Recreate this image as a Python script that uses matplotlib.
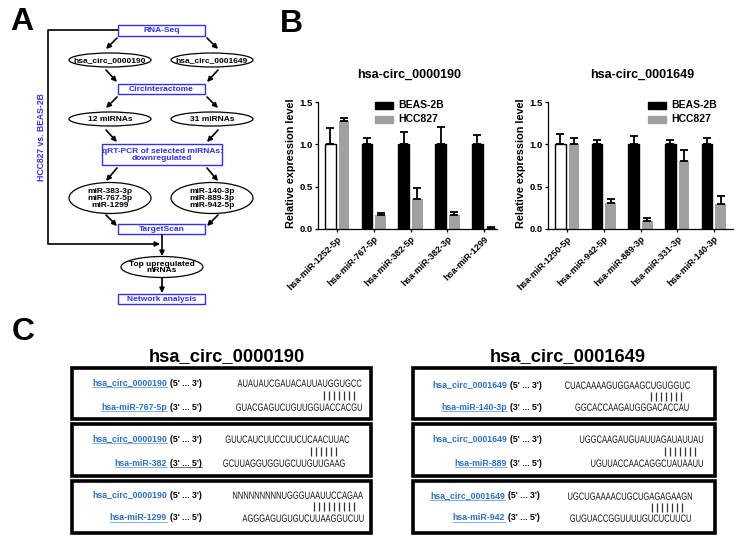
import numpy as np
import matplotlib
matplotlib.use("Agg")
import matplotlib.pyplot as plt
from matplotlib.font_manager import FontProperties
from matplotlib.patches import Rectangle, Ellipse, PathPatch
from matplotlib.textpath import TextPath
from matplotlib.transforms import Affine2D

plt.rcParams['font.family'] = ['Liberation Sans', 'DejaVu Sans']

# ---- panel B data ----
mirs_190 = ['hsa-miR-1252-5p', 'hsa-miR-767-5p', 'hsa-miR-382-5p', 'hsa-miR-382-3p', 'hsa-miR-1299']
beas_190 = [1.0, 1.0, 1.0, 1.0, 1.0]
beas_190_err = [0.19, 0.08, 0.15, 0.21, 0.11]
hcc_190 = [1.27, 0.16, 0.36, 0.16, 0.01]
hcc_190_err = [0.04, 0.03, 0.12, 0.04, 0.01]

mirs_1649 = ['hsa-miR-1250-5p', 'hsa-miR-942-5p', 'hsa-miR-889-3p', 'hsa-miR-331-3p', 'hsa-miR-140-3p']
beas_1649 = [1.0, 1.0, 1.0, 1.0, 1.0]
beas_1649_err = [0.12, 0.05, 0.10, 0.05, 0.08]
hcc_1649 = [1.0, 0.31, 0.09, 0.80, 0.29]
hcc_1649_err = [0.08, 0.05, 0.04, 0.13, 0.10]

# ---- panel C data ----
circ_names = ['hsa_circ_0000190'] * 3 + ['hsa_circ_0001649'] * 3
mir_names = ['hsa-miR-767-5p', 'hsa-miR-382', 'hsa-miR-1299',
             'hsa-miR-140-3p', 'hsa-miR-889', 'hsa-miR-942']
seq_top = ['AUAUAUCGAUACAUUAUGGUGCC', 'GUUCAUCUUCCUUCUCAACUUAC', 'NNNNNNNNNUGGGUAAUUCCAGAA',
           'CUACAAAAGUGGAAGCUGUGGUC', 'UGGCAAGAUGUAUUAGAUAUUAU', 'UGCUGAAAACUGCUGAGAGAAGN']
seq_bot = ['GUACGAGUCUGUUGGUACCACGU', 'GCUUAGGUGGUGCUUGUUGAAG', 'AGGGAGUGUGUCUUAAGGUCUU',
           'GGCACCAAGAUGGGACACCAU', 'UGUUACCAACAGGCUAUAAUU', 'GUGUACCGGUUUUGUCUCUUCU']
n_pairs = [7, 6, 9, 7, 7, 7]
# which of (circ, mir, mir-paren) are underlined
underl = [(1, 1, 0), (1, 1, 1), (0, 1, 0), (0, 1, 0), (0, 1, 0), (1, 1, 0)]

W, H = 743, 544
fig = plt.figure(figsize=(W / 100, H / 100), dpi=100)
ax0 = fig.add_axes([0, 0, 1, 1])
ax0.set_xlim(0, W)
ax0.set_ylim(H, 0)
ax0.axis('off')
renderer = fig.canvas.get_renderer()

BLUE = '#2f2fff'
LBLUE = '#2a6fcc'
FS_A = 6.0

# panel letters
for lab, (lx, ly) in zip('ABC', [(22, 22), (291, 24), (23, 332)]):
    ax0.text(lx, ly, lab, fontsize=23, fontweight='bold', ha='center', va='center')

# ---- panel A flowchart ----
boxes = [((118, 25, 205, 36), 'RNA-Seq'),
         ((118, 84, 205, 94), 'CircInteractome'),
         ((102, 144, 222, 165), 'qRT-PCR of selected miRNAs:\ndownregulated'),
         ((118, 224, 205, 234), 'TargetScan'),
         ((118, 294, 205, 304), 'Network analysis')]
for (x0, y0, x1, y1), txt in boxes:
    ax0.add_patch(Rectangle((x0, y0), x1 - x0, y1 - y0, fill=False, ec=BLUE, lw=1.0))
    ax0.text((x0 + x1) / 2, (y0 + y1) / 2 + 0.5, txt, color=BLUE, fontsize=FS_A,
             fontweight='bold', ha='center', va='center', linespacing=1.15)

ellipses = [((110, 60, 82, 14), 'hsa_circ_0000190'), ((212, 60, 82, 14), 'hsa_circ_0001649'),
            ((110, 119, 82, 14), '12 miRNAs'), ((212, 119, 82, 14), '31 miRNAs'),
            ((110, 198, 82, 31), 'miR-383-3p\nmiR-767-5p\nmiR-1299'),
            ((212, 198, 82, 31), 'miR-140-3p\nmiR-889-3p\nmiR-942-5p'),
            ((162, 267, 82, 21), 'Top upregulated\nmRNAs')]
for (cx, cy, ew, eh), txt in ellipses:
    ax0.add_patch(Ellipse((cx, cy), ew, eh, fill=False, ec='black', lw=0.9))
    ax0.text(cx, cy + 0.5, txt, fontsize=FS_A, fontweight='bold', ha='center', va='center',
             linespacing=1.0)

arrows = [((117, 38), (106, 49)), ((207, 38), (218, 49)),
          ((106, 70), (117, 82)), ((218, 70), (207, 82)),
          ((117, 97), (106, 108)), ((207, 97), (218, 108)),
          ((106, 130), (117, 142)), ((218, 130), (207, 142)),
          ((117, 168), (106, 181)), ((207, 168), (218, 181)),
          ((106, 215), (117, 226)), ((218, 215), (207, 226)),
          ((162, 235), (162, 256)), ((162, 278), (162, 293)),
          ((48, 244), (160, 244))]
for p0, p1 in arrows:
    ax0.annotate('', xy=p1, xytext=p0,
                 arrowprops=dict(arrowstyle='-|>', lw=1.2, color='black',
                                 mutation_scale=7, shrinkA=0, shrinkB=0))
ax0.plot([118, 48, 48], [30, 30, 244], color='black', lw=1.2, solid_capstyle='butt')
ax0.text(42, 137, 'HCC827 vs. BEAS-2B', color=BLUE, fontsize=6.2, fontweight='bold',
         rotation=90, ha='center', va='center')


# ---- panel B bar charts ----
def bar_panel(px0, px1, xmax, labels, beas, beas_err, hcc, hcc_err, title, leg_x):
    ax = fig.add_axes([px0 / W, 1 - 229 / H, (px1 - px0) / W, 127 / H])
    x = np.arange(len(labels))
    w, off = 0.29, 0.185
    fc = ['white'] + ['black'] * (len(labels) - 1)
    ax.bar(x - off, beas, w, color=fc, edgecolor='black', linewidth=1.0, zorder=2)
    ax.bar(x + off, hcc, w, color='#a0a0a0', edgecolor='none', zorder=2)
    ax.errorbar(x - off, beas, yerr=[np.zeros(len(x)), beas_err], fmt='none', ecolor='black',
                elinewidth=1.3, capsize=2.6, capthick=1.3, zorder=3)
    ax.errorbar(x + off, hcc, yerr=[np.zeros(len(x)), hcc_err], fmt='none', ecolor='black',
                elinewidth=1.3, capsize=2.6, capthick=1.3, zorder=3)
    ax.set_xlim(-0.52, xmax)
    ax.set_ylim(0, 1.5)
    ax.set_yticks([0, 0.5, 1.0, 1.5])
    ax.set_yticklabels(['0.0', '0.5', '1.0', '1.5'], fontsize=6.8, fontweight='bold')
    ax.set_xticks(x)
    ax.set_xticklabels(labels, rotation=45, ha='right', rotation_mode='anchor',
                       fontsize=6.5, fontweight='bold')
    for s in ['top', 'right']:
        ax.spines[s].set_visible(False)
    for s in ['left', 'bottom']:
        ax.spines[s].set_linewidth(0.9)
    ax.tick_params(length=2.5, width=0.9, pad=1.5)
    ax.patch.set_alpha(0)
    # legend
    ax0.add_patch(Rectangle((leg_x, 102), 18, 7, color='black'))
    ax0.add_patch(Rectangle((leg_x, 116), 18, 7, color='#a0a0a0'))
    ax0.text(leg_x + 23, 105.5, 'BEAS-2B', fontsize=7.5, fontweight='bold', va='center')
    ax0.text(leg_x + 23, 119.5, 'HCC827', fontsize=7.5, fontweight='bold', va='center')
    ax0.text((px0 + px1) / 2 + 2, 75, title, fontsize=9, fontweight='bold', ha='center', va='center')
    ax0.text(px0 - 27, 163, 'Relative expression level', fontsize=7.8, fontweight='bold',
             rotation=90, ha='center', va='center')
    return ax


bar_panel(318, 497, 4.35, mirs_190, beas_190, beas_190_err, hcc_190, hcc_190_err,
          'hsa-circ_0000190', 375)
bar_panel(548, 733, 4.52, mirs_1649, beas_1649, beas_1649_err, hcc_1649, hcc_1649_err,
          'hsa-circ_0001649', 648)

# ---- panel C ----
seq_prop = FontProperties(family='Liberation Sans')
SEQ_SIZE = 10.5   # px
SEQ_SX = 0.72     # horizontal squeeze, narrow face like the original


def narrow_text(s, cx, cy):
    tp = TextPath((0, 0), s, size=SEQ_SIZE, prop=seq_prop)
    ext = tp.get_extents()
    cap = 0.72 * SEQ_SIZE
    tr = (Affine2D().translate(-(ext.x0 + ext.width / 2), -cap / 2)
          .scale(SEQ_SX, -1).translate(cx, cy))
    ax0.add_patch(PathPatch(tr.transform_path(tp), fc='#151515', ec='none', lw=0))


def underline(t, color):
    bb = t.get_window_extent(renderer)
    inv = ax0.transData.inverted()
    (xa, ya), (xb, yb) = inv.transform([[bb.x0, bb.y0], [bb.x1, bb.y1]])
    yl = max(ya, yb) - 0.3
    ax0.plot([xa, xb], [yl, yl], color=color, lw=0.6)


ax0.text(226.5, 361, 'hsa_circ_0000190', fontsize=13.2, fontweight='bold', ha='center', va='baseline')
ax0.text(568, 361, 'hsa_circ_0001649', fontsize=13.2, fontweight='bold', ha='center', va='baseline')

box_x = [(72, 371)] * 3 + [(413, 715)] * 3
box_y = [(368, 419), (424, 476), (481, 533)] * 2
lab_x = [167, 167, 167, 507, 507, 505]
row_y = [(383, 407), (439, 463), (495, 518), (385, 407), (439, 463), (496, 518)]
top_cx = [299.5, 287.5, 298, 627.5, 641.5, 630]
bot_cx = [299, 284, 303, 632, 647, 630.5]
bar_cx = [338.5, 323, 333.5, 665.5, 680, 666.5]

for i in range(6):
    (bx0, bx1), (by0, by1) = box_x[i], box_y[i]
    ax0.add_patch(Rectangle((bx0, by0), bx1 - bx0, by1 - by0, fill=False, ec='black', lw=2.6))
    y1, y2 = row_y[i]
    t1 = ax0.text(lab_x[i], y1, circ_names[i], color=LBLUE, fontsize=6.3, fontweight='bold',
                  ha='right', va='center')
    ax0.text(lab_x[i] + 3, y1, "(5' ... 3')", fontsize=6.3, fontweight='bold', ha='left', va='center')
    t2 = ax0.text(lab_x[i], y2, mir_names[i], color=LBLUE, fontsize=6.3, fontweight='bold',
                  ha='right', va='center')
    t3 = ax0.text(lab_x[i] + 3, y2, "(3' ... 5')", fontsize=6.3, fontweight='bold', ha='left', va='center')
    if underl[i][0]:
        underline(t1, '#6fa0e0')
    if underl[i][1]:
        underline(t2, '#6fa0e0')
    if underl[i][2]:
        underline(t3, '#555555')
    narrow_text(seq_top[i], top_cx[i], y1)
    narrow_text(seq_bot[i], bot_cx[i], y2)
    n = n_pairs[i]
    bxs = bar_cx[i] + (np.arange(n) - (n - 1) / 2) * 5.0
    ym = (y1 + y2) / 2
    ax0.vlines(bxs, ym - 4.5, ym + 4.5, color='#333333', lw=0.9)

fig.savefig('out.png', dpi=100)
